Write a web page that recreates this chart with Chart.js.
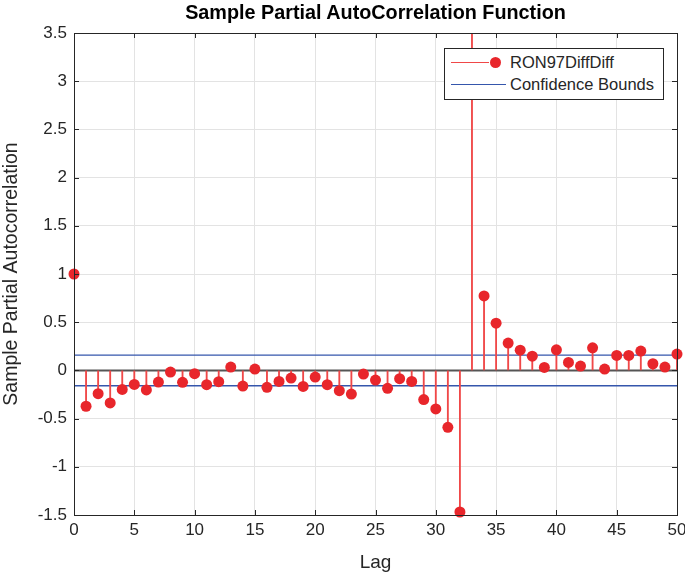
<!DOCTYPE html>
<html>
<head>
<meta charset="utf-8">
<script src="https://cdn.jsdelivr.net/npm/chart.js@4"></script>
<style>
  body { margin: 0; background: #fff; font-family: "Liberation Sans", Arial, sans-serif; }
  #wrap { position: relative; width: 685px; height: 574px; }
  .title { position: absolute; left: 74px; width: 603px; top: 0px; text-align: center;
           font-weight: bold; font-size: 19.8px; color: #000; line-height: 24px; }
  .legend { position: absolute; left: 444px; top: 48px; width: 218px; height: 50px;
            border: 1px solid #262626; background: #fff; }
  .legend .row { position: absolute; left: 0; height: 22px; font-size: 16.5px; color: #262626; }
  .legend .sym { position: absolute; left: 6px; top: 10px; height: 1px; }
  .legend .dot { position: absolute; left: 39px; top: -5px; width: 11px; height: 11px;
                 border-radius: 50%; background: #e8262b; }
  .legend .txt { position: absolute; left: 65px; top: 1px; white-space: nowrap; }
</style>
</head>
<body>
<div id="wrap">
  <canvas id="acf" width="685" height="574"></canvas>
  <div class="title">Sample Partial AutoCorrelation Function</div>
  <div class="legend">
    <div class="row" style="top:3px;">
      <div class="sym" style="width:38px; background:#f04848;"><div class="dot"></div></div>
      <div class="txt">RON97DiffDiff</div>
    </div>
    <div class="row" style="top:25px;">
      <div class="sym" style="width:55px; background:#3556ac;"></div>
      <div class="txt">Confidence Bounds</div>
    </div>
  </div>
</div>
<script>
// lags 0..50 and partial autocorrelation
const lags = [];
for (let i = 0; i <= 50; i++) lags.push(i);

const pacf = [
  1.0, -0.372, -0.241, -0.338, -0.197, -0.145, -0.203, -0.121, -0.017, -0.124,
  -0.034, -0.148, -0.117, 0.034, -0.162, 0.014, -0.176, -0.114, -0.079, -0.166,
  -0.069, -0.148, -0.210, -0.245, -0.038, -0.100, -0.186, -0.086, -0.114, -0.303,
  -0.400, -0.590, -1.469, 3.9, 0.772, 0.490, 0.283, 0.210, 0.148, 0.031,
  0.214, 0.083, 0.045, 0.234, 0.014, 0.155, 0.155, 0.200, 0.069, 0.034,
  0.169
];

const bound = 0.159;
const xRange = [0, 50];
const yRange = [-1.5, 3.5];

const FONT = '"Liberation Sans", Arial, sans-serif';
const axisColor = '#262626';

// box around the axes with inward ticks, like matlab
const boxPlugin = {
  id: 'box',
  afterDraw(chart) {
    const { ctx, chartArea: a, scales } = chart;
    ctx.save();
    ctx.strokeStyle = axisColor;
    ctx.lineWidth = 1;
    const len = 5;
    ctx.beginPath();
    scales.x.ticks.forEach(t => {
      const px = Math.round(scales.x.getPixelForValue(t.value)) + 0.5;
      ctx.moveTo(px, a.bottom); ctx.lineTo(px, a.bottom - len);
      ctx.moveTo(px, a.top); ctx.lineTo(px, a.top + len);
    });
    scales.y.ticks.forEach(t => {
      const py = Math.round(scales.y.getPixelForValue(t.value)) + 0.5;
      ctx.moveTo(a.left, py); ctx.lineTo(a.left + len, py);
      ctx.moveTo(a.right, py); ctx.lineTo(a.right - len, py);
    });
    ctx.stroke();
    ctx.strokeRect(Math.round(a.left) + 0.5, Math.round(a.top) + 0.5,
                   Math.round(a.right - a.left), Math.round(a.bottom - a.top));
    ctx.restore();
  }
};

new Chart(document.getElementById('acf'), {
  type: 'scatter',
  data: {
    datasets: [
      {
        label: 'RON97DiffDiff',
        data: lags.map((l, i) => ({ x: l, y: pacf[i] })),
        backgroundColor: '#e8262b',
        borderWidth: 0,
        pointRadius: 5.5,
        pointHoverRadius: 5.5,
        clip: 7,
        order: 0
      },
      {
        type: 'bar',
        label: 'stems',
        data: lags.map((l, i) => ({ x: l, y: [0, pacf[i]] })),
        backgroundColor: '#f04848',
        barThickness: 1.2,
        borderWidth: 0,
        grouped: false,
        clip: 0,
        order: 1
      },
      {
        type: 'line',
        label: 'Confidence Bounds',
        data: xRange.map(x => ({ x: x, y: bound })),
        borderColor: '#3556ac',
        borderWidth: 1.3,
        pointRadius: 0,
        clip: 0,
        order: 2
      },
      {
        type: 'line',
        label: 'lower',
        data: xRange.map(x => ({ x: x, y: -bound })),
        borderColor: '#3556ac',
        borderWidth: 1.3,
        pointRadius: 0,
        clip: 0,
        order: 2
      },
      {
        type: 'line',
        label: 'baseline',
        data: xRange.map(x => ({ x: x, y: 0 })),
        borderColor: '#555555',
        borderWidth: 2,
        pointRadius: 0,
        clip: 0,
        order: 3
      }
    ]
  },
  options: {
    responsive: false,
    animation: false,
    events: [],
    layout: { padding: { left: 0, right: 0, top: 33, bottom: 0 } },
    plugins: {
      legend: { display: false },
      tooltip: { enabled: false },
      title: { display: false }
    },
    scales: {
      x: {
        type: 'linear',
        min: xRange[0],
        max: xRange[1],
        offset: false,
        ticks: { stepSize: 5, color: axisColor, padding: 5, maxRotation: 0,
                 font: { family: FONT, size: 17 } },
        grid: { color: '#e3e3e3', drawTicks: false, offset: false },
        border: { display: false },
        title: { display: true, text: 'Lag', color: axisColor,
                 font: { family: FONT, size: 19, lineHeight: 1.2 },
                 padding: { top: 3, bottom: 0 } },
        afterFit(scale) {
          scale.height = 59;
          scale.paddingRight = 8;
        }
      },
      y: {
        min: yRange[0],
        max: yRange[1],
        ticks: { stepSize: 0.5, color: axisColor, padding: 7,
                 font: { family: FONT, size: 17 },
                 callback: v => String(Math.round(v * 10) / 10) },
        grid: { color: '#e3e3e3', drawTicks: false },
        border: { display: false },
        title: { display: true, text: 'Sample Partial Autocorrelation', color: axisColor,
                 font: { family: FONT, size: 19.5, lineHeight: 1.2 },
                 padding: { top: 0, bottom: 0 } },
        afterFit(scale) {
          scale.width = 74;
          scale.paddingTop = 0;
        }
      }
    }
  },
  plugins: [boxPlugin]
});
</script>
</body>
</html>
